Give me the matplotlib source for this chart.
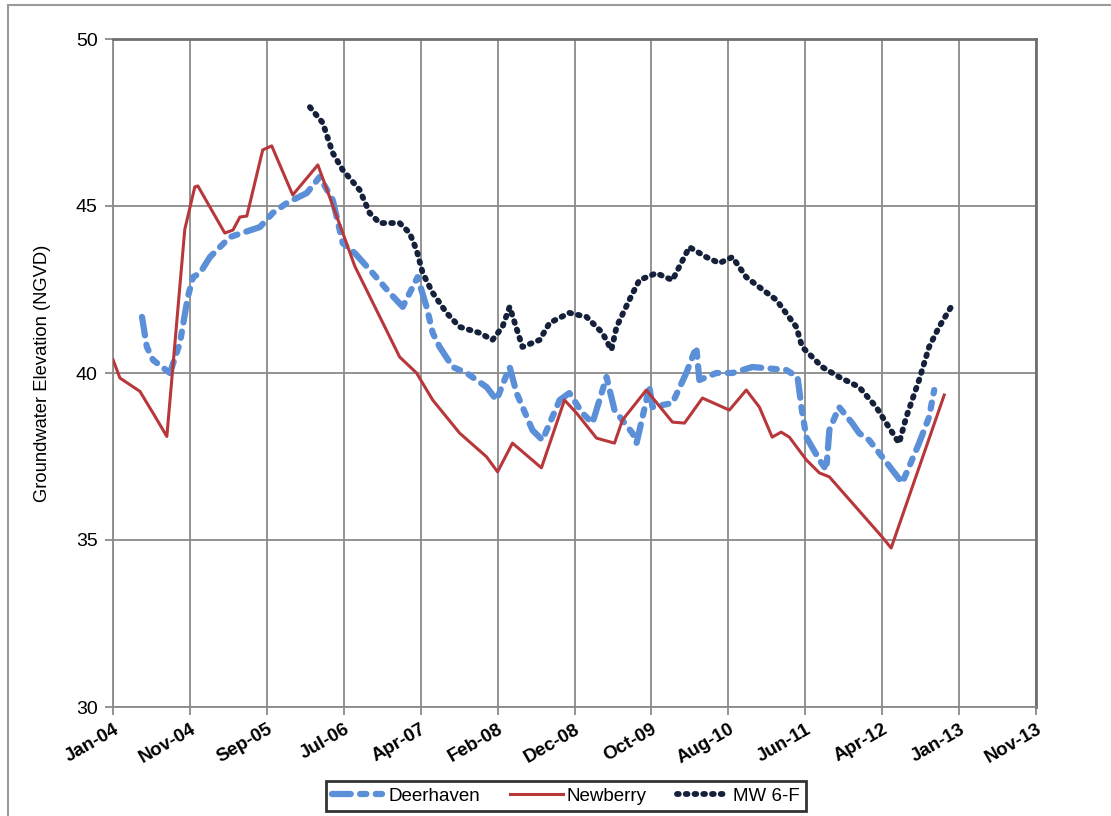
import numpy as np
import pandas as pd
import matplotlib
matplotlib.use('Agg')
import matplotlib.pyplot as plt
import matplotlib.dates as mdates
from matplotlib.patches import Rectangle

plt.rcParams['font.family'] = ['Liberation Sans', 'DejaVu Sans']

# Newberry (solid red)
newberry_dates = ['2004-01-15', '2004-02-11', '2004-04-29', '2004-06-27', '2004-08-12',
                  '2004-10-21', '2004-11-29', '2004-12-11', '2005-03-26', '2005-04-27',
                  '2005-05-24', '2005-06-20', '2005-08-21', '2005-09-25', '2005-12-16',
                  '2006-03-24', '2006-06-29', '2006-08-15', '2007-02-06', '2007-04-13',
                  '2007-06-15', '2007-09-28', '2008-01-11', '2008-02-23', '2008-04-21',
                  '2008-08-12', '2008-11-10', '2008-12-27', '2009-03-15', '2009-05-24',
                  '2009-06-24', '2009-09-25', '2010-01-05', '2010-02-21', '2010-05-02',
                  '2010-08-15', '2010-10-20', '2010-12-10', '2011-01-29', '2011-03-05',
                  '2011-04-06', '2011-06-11', '2011-08-01', '2011-09-09', '2012-04-02',
                  '2012-05-07', '2012-11-30']
newberry_vals = [40.4, 39.85, 39.45, 38.7, 38.1,
                 44.3, 45.57, 45.6, 44.19, 44.28,
                 44.67, 44.7, 46.68, 46.8, 45.33,
                 46.23, 44.2, 43.2, 40.48, 40.0,
                 39.19, 38.2, 37.49, 37.04, 37.9,
                 37.16, 39.19, 38.8, 38.05, 37.9,
                 38.59, 39.49, 38.53, 38.5, 39.25,
                 38.89, 39.49, 38.98, 38.08, 38.23,
                 38.08, 37.4, 37.01, 36.89, 35.09,
                 34.76, 39.34]

# Deerhaven (light blue dash-dot)
deer_dates = ['2004-05-07', '2004-05-26', '2004-06-19', '2004-08-24', '2004-10-02',
              '2004-11-02', '2004-11-22', '2004-12-19', '2005-01-27', '2005-04-15',
              '2005-08-10', '2005-09-29', '2005-11-23', '2006-02-09', '2006-03-31',
              '2006-05-21', '2006-06-29', '2006-08-15', '2006-10-24', '2006-12-29',
              '2007-02-18', '2007-04-17', '2007-05-22', '2007-06-15', '2007-07-12',
              '2007-09-01', '2007-10-25', '2008-01-11', '2008-02-19', '2008-04-10',
              '2008-05-07', '2008-07-08', '2008-08-16', '2008-10-22', '2008-11-29',
              '2009-01-19', '2009-02-27', '2009-04-23', '2009-05-24', '2009-08-02',
              '2009-08-18', '2009-10-07', '2009-10-19', '2010-01-05', '2010-02-28',
              '2010-04-08', '2010-04-20', '2010-06-25', '2010-08-27', '2010-11-13',
              '2011-03-25', '2011-05-08', '2011-05-23', '2011-06-11', '2011-08-01',
              '2011-08-28', '2011-09-09', '2011-10-17', '2011-12-07', '2012-01-03',
              '2012-02-11', '2012-04-02', '2012-05-11', '2012-06-19', '2012-07-16',
              '2012-08-24', '2012-10-02', '2012-10-22']
deer_vals = [41.68, 40.78, 40.39, 40.0, 40.9,
             42.28, 42.87, 42.99, 43.47, 44.07,
             44.37, 44.79, 45.09, 45.39, 45.87,
             45.18, 43.89, 43.59, 42.99, 42.4,
             41.98, 42.87, 41.98, 41.2, 40.78,
             40.18, 40.0, 39.58, 39.19, 40.18,
             39.4, 38.29, 37.99, 39.19, 39.4,
             38.8, 38.5, 39.88, 38.89, 38.2,
             37.9, 39.58, 38.98, 39.1, 40.0,
             40.78, 39.79, 40.0, 40.0, 40.18,
             40.09, 39.88, 38.98, 38.08, 37.4,
             37.1, 38.29, 38.98, 38.5, 38.2,
             37.99, 37.49, 37.1, 36.71, 37.19,
             37.9, 38.68, 39.49]

# MW 6-F (dark navy dotted)
mw_dates = ['2006-02-21', '2006-04-12', '2006-05-21', '2006-06-29', '2006-09-03',
            '2006-10-12', '2006-11-20', '2007-02-06', '2007-03-17', '2007-04-13',
            '2007-05-07', '2007-06-15', '2007-08-08', '2007-09-28', '2007-12-15',
            '2008-02-03', '2008-03-13', '2008-04-10', '2008-05-30', '2008-08-05',
            '2008-09-13', '2008-11-29', '2009-02-04', '2009-04-07', '2009-05-12',
            '2009-06-01', '2009-07-21', '2009-08-29', '2009-11-03', '2010-01-05',
            '2010-03-12', '2010-05-17', '2010-07-07', '2010-08-27', '2010-10-20',
            '2010-12-10', '2011-02-14', '2011-05-03', '2011-05-26', '2011-08-12',
            '2011-10-17', '2012-01-03', '2012-03-10', '2012-04-18', '2012-06-07',
            '2012-07-05', '2012-08-24', '2012-10-02', '2012-11-10', '2012-12-27']
mw_vals = [47.96, 47.49, 46.59, 46.08, 45.48,
           44.79, 44.49, 44.49, 44.19, 43.68,
           42.99, 42.4, 41.8, 41.38, 41.2,
           40.99, 41.38, 41.98, 40.78, 40.99,
           41.5, 41.8, 41.68, 41.2, 40.69,
           41.38, 42.19, 42.78, 42.99, 42.78,
           43.77, 43.47, 43.29, 43.47, 42.87,
           42.57, 42.19, 41.38, 40.78, 40.18,
           39.88, 39.58, 38.98, 38.5, 37.9,
           38.68, 39.79, 40.78, 41.38, 41.98]

tick_start = '2004-01-15'
tick_step_days = 300
n_ticks = 13

fig = plt.figure(figsize=(11.11, 8.16), dpi=100)
ax = fig.add_axes([113/1111, 1 - 707/816, (1036 - 113)/1111, (707 - 39)/816])

# outer chart frame
fig.patches.append(Rectangle((8/1111, -0.05), 1.2, 1 - 5/816 + 0.05,
                             transform=fig.transFigure, fill=False,
                             edgecolor='#9a9a9a', linewidth=1.5))

deer_x = pd.to_datetime(deer_dates)
new_x = pd.to_datetime(newberry_dates)
mw_x = pd.to_datetime(mw_dates)

ax.plot(deer_x, deer_vals, color='#5b8fd8', lw=4.5, linestyle=(0, (3, 1.5, 1, 1.5, 1, 1.5)),
        dash_capstyle='round', label='Deerhaven', zorder=3)
ax.plot(new_x, newberry_vals, color='#b8373b', lw=2.2, label='Newberry', zorder=4)
ax.plot(mw_x, mw_vals, color='#15203a', lw=4.2, linestyle=(0, (0.3, 1.2)),
        dash_capstyle='round', label='MW 6-F', zorder=5)

ticks = pd.to_datetime(tick_start) + pd.to_timedelta(np.arange(n_ticks) * tick_step_days, unit='D')
ax.set_xlim(ticks[0], ticks[-1])
ax.set_xticks(ticks)
ax.xaxis.set_major_formatter(mdates.DateFormatter('%b-%y'))
ax.set_ylim(30, 50)
ax.set_yticks([30, 35, 40, 45, 50])

ax.grid(True, color='#8a8a8a', lw=1.3)
ax.set_axisbelow(True)
for s in ['left', 'bottom']:
    ax.spines[s].set_color('#8a8a8a')
    ax.spines[s].set_linewidth(1.3)
for s in ['top', 'right']:
    ax.spines[s].set_color('#707070')
    ax.spines[s].set_linewidth(2)

ax.tick_params(axis='both', direction='out', length=6, color='#8a8a8a', width=1.3)
ax.tick_params(axis='y', labelsize=14, pad=5)
ax.tick_params(axis='x', labelsize=13.5, pad=4)
for lbl in ax.get_xticklabels():
    lbl.set_rotation(30)
    lbl.set_ha('right')
    lbl.set_rotation_mode('anchor')
    lbl.set_fontweight('bold')

ax.set_ylabel('Groundwater Elevation (NGVD)', fontsize=13.2, labelpad=18)

leg = fig.legend(loc='center', bbox_to_anchor=(566/1111, 1 - 796/816), ncol=3,
                 frameon=True, fancybox=False, fontsize=13.5, handlelength=2.8,
                 columnspacing=1.6, handletextpad=0.2, borderpad=0.35)
leg.get_frame().set_edgecolor('black')
leg.get_frame().set_linewidth(2)

fig.savefig('out.png', dpi=100)
